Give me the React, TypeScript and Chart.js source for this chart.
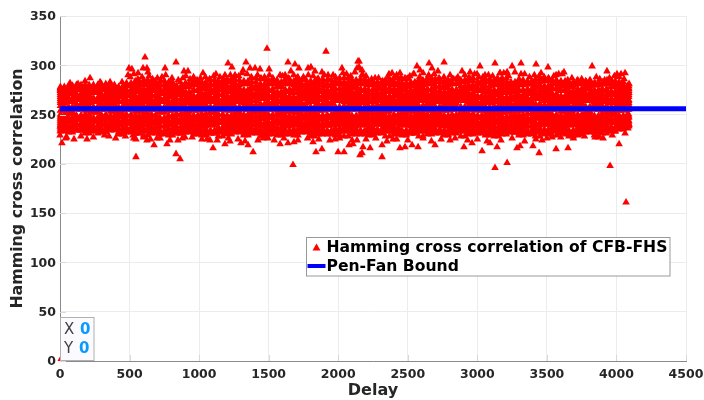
import React, { useEffect, useRef } from "react";
import { Chart, registerables } from "chart.js";

Chart.register(...registerables);

const scatterName = "Hamming cross correlation of CFB-FHS";
const boundName = "Pen-Fan Bound";
const xTicks = [0, 500, 1000, 1500, 2000, 2500, 3000, 3500, 4000, 4500];
const yTicks = [0, 50, 100, 150, 200, 250, 300, 350];
const boundDelays = [0, 4500];
const boundValues = [256, 256];

// dense part of the cloud, read column by column
const delaysA = [3,62,118,181,240,297,362,421,478,541,602,659,718,781,838,902,961,1019,1082,1138,1201,1259,1322,1379,1441,1498,1562,1619,1681,1738,1802,1858,1921,1979,2042,2099,2161,2218,2282,2339,2401,2458,2522,2579,2641,2698,2762,2819,2881,2938,3002,3059,3121,3178,3242,3299,3361,3418,3482,3539,3601,3658,3722,3779,3841,3898,3962,4019,4078];
const delaysB = [31,89,151,209,271,329,391,449,511,569,631,689,751,809,871,929,991,1049,1111,1169,1231,1289,1351,1409,1471,1529,1591,1649,1711,1769,1831,1889,1951,2009,2071,2129,2191,2249,2311,2369,2431,2489,2551,2609,2671,2729,2791,2849,2911,2969,3031,3089,3151,3209,3271,3329,3391,3449,3511,3569,3631,3689,3751,3809,3871,3929,3991,4049,4088];

const rowA283 = [277,279,280,278,280,281,279,277,282,284,285,283,284,283,278,282,284,283,285,284,286,285,284,287,286,285,283,286,284,285,284,286,285,284,287,285,286,284,283,285,287,286,283,285,287,286,284,286,285,287,284,286,285,287,283,285,284,286,287,285,284,283,285,284,282,283,284,283,279];
const row281 = [275,277,278,276,278,279,277,275,280,281,282,281,280,281,276,280,281,282,281,282,283,281,282,283,281,282,281,283,282,281,282,283,281,282,283,282,283,281,280,282,283,282,281,282,284,283,281,282,283,284,281,283,282,284,281,282,281,283,284,282,281,280,282,281,280,281,282,280,277];
const rowB278 = [278,279,277,280,278,279,280,278,279,281,280,279,280,278,279,281,280,279,280,281,279,280,281,279,280,281,279,281,280,279,281,280,279,281,280,279,281,280,279,281,280,281,279,280,281,279,280,281,279,280,281,279,280,281,279,280,281,280,279,281,279,280,281,279,280,281,279,278,276];
const row276 = [276,275,277,276,275,277,276,277,275,278,276,277,275,277,276,278,275,277,276,278,276,277,275,278,277,276,278,275,277,276,278,277,275,276,278,277,276,275,278,277,276,278,275,277,276,278,277,275,276,278,277,276,275,278,277,275,276,278,276,277,275,278,276,277,275,276,278,276,274];
const rowA274 = [274,273,275,274,273,275,274,276,274,275,273,274,276,275,274,273,275,276,274,275,273,275,274,276,275,274,273,275,276,274,275,273,274,276,275,273,274,275,276,274,273,275,274,276,275,274,273,275,274,276,275,273,274,275,276,274,273,275,274,276,275,274,273,276,274,275,273,274,272];
const row272 = [272,273,271,272,273,271,272,274,271,273,272,274,271,272,273,271,274,272,273,271,274,272,273,271,272,274,271,273,272,271,273,274,272,271,273,272,274,271,272,273,274,271,272,273,271,274,272,273,271,272,274,273,271,272,273,274,271,272,273,271,274,272,273,271,272,274,273,271,272];
const rowB270 = [270,271,269,270,272,270,269,271,270,269,271,270,272,269,271,270,269,271,272,270,269,271,270,272,269,270,271,269,272,270,271,269,270,272,271,269,270,271,272,269,270,271,269,272,270,271,269,270,272,271,269,270,271,272,269,270,271,269,272,270,269,271,270,272,269,271,270,269,270];
const row268 = [268,267,269,268,267,269,267,268,269,267,268,269,267,268,270,267,268,269,267,270,268,269,267,268,270,267,269,268,267,270,268,269,267,270,268,267,269,268,270,267,269,268,267,270,268,269,267,268,270,269,267,268,270,267,269,268,267,270,269,268,267,270,268,269,267,268,270,267,268];
const rowA266 = [266,265,267,266,265,267,266,268,265,266,267,265,266,268,266,265,267,266,268,265,266,267,265,268,266,267,265,266,268,267,265,266,267,268,265,266,267,265,268,266,265,267,266,268,265,267,266,265,268,266,267,265,266,268,267,265,266,267,268,265,266,267,265,268,266,267,265,266,265];
const row264 = [264,263,265,264,263,265,263,264,265,263,264,265,263,264,266,263,264,265,263,266,264,265,263,264,266,263,265,264,263,266,264,265,263,266,264,263,265,264,266,263,265,264,263,266,264,265,263,264,266,265,263,264,266,263,265,264,263,266,265,264,263,266,264,265,263,264,266,263,264];
const rowB262 = [262,263,261,262,264,262,261,263,262,261,263,262,264,261,263,262,261,263,264,262,261,263,262,264,261,262,263,261,264,262,263,261,262,264,263,261,262,263,264,261,262,263,261,264,262,263,261,262,264,263,261,262,263,264,261,262,263,261,264,262,261,263,262,264,261,263,262,261,262];
const row259 = [259,258,260,259,258,260,259,258,260,258,259,260,258,259,260,258,259,260,258,259,260,258,259,260,258,260,259,258,260,259,258,260,259,258,259,260,258,259,260,258,259,260,258,259,260,258,260,259,258,260,259,258,259,260,258,259,260,258,260,259,258,259,260,258,260,259,258,259,260];
const row254 = [254,253,255,254,253,255,253,254,255,253,254,255,253,254,255,253,254,255,253,255,254,253,255,254,253,255,254,253,255,254,253,254,255,253,254,255,253,254,255,253,255,254,253,255,254,253,254,255,253,255,254,253,254,255,253,254,255,253,254,255,253,254,255,253,255,254,253,254,255];
const rowA250 = [250,251,249,250,252,250,249,251,250,249,251,250,252,249,251,250,249,251,252,250,249,251,250,252,249,250,251,249,252,250,251,249,250,252,251,249,250,251,252,249,250,251,249,252,250,251,249,250,252,251,249,250,251,252,249,250,251,249,252,250,249,251,250,252,249,251,250,249,250];
const row248 = [248,247,249,248,247,249,247,248,249,247,248,249,247,248,250,247,248,249,247,250,248,249,247,248,250,247,249,248,247,250,248,249,247,250,248,247,249,248,250,247,249,248,247,250,248,249,247,248,250,249,247,248,250,247,249,248,247,250,249,248,247,250,248,249,247,248,250,247,248];
const rowB246 = [246,245,247,246,245,247,246,248,245,246,247,245,246,248,246,245,247,246,248,245,246,247,245,248,246,247,245,246,248,247,245,246,247,248,245,246,247,245,248,246,245,247,246,248,245,247,246,245,248,246,247,245,246,248,247,245,246,247,248,245,246,247,245,248,246,247,245,246,247];
const row244 = [244,243,245,244,243,245,243,244,245,243,244,245,243,244,246,243,244,245,243,246,244,245,243,244,246,243,245,244,243,246,244,245,243,246,244,243,245,244,246,243,245,244,243,246,244,245,243,244,246,245,243,244,246,243,245,244,243,246,245,244,243,246,244,245,243,244,246,243,244];
const rowA242 = [242,243,241,242,244,242,241,243,242,241,243,242,244,241,243,242,241,243,244,242,241,243,242,244,241,242,243,241,244,242,243,241,242,244,243,241,242,243,244,241,242,243,241,244,242,243,241,242,244,243,241,242,243,244,241,242,243,241,244,242,241,243,242,244,241,243,242,241,243];
const row240 = [240,239,241,240,239,241,239,240,241,239,240,241,239,240,242,239,240,241,239,242,240,241,239,240,242,239,241,240,239,242,240,241,239,242,240,239,241,240,242,239,241,240,239,242,240,241,239,240,242,241,239,240,242,239,241,240,239,242,241,240,239,242,240,241,239,240,242,239,240];
const rowB238 = [238,237,239,238,237,239,238,240,237,238,239,237,238,240,238,237,239,238,240,237,238,239,237,240,238,239,237,238,240,239,237,238,239,240,237,238,239,237,240,238,237,239,238,240,237,239,238,237,240,238,239,237,238,240,239,237,238,239,240,237,238,239,237,240,238,239,237,238,240];
const row236 = [238,237,236,238,237,236,238,236,235,236,235,237,234,236,235,237,236,235,234,236,235,237,234,236,235,237,236,234,235,237,236,235,234,236,237,235,234,236,235,237,236,234,235,237,236,235,234,236,237,235,236,234,235,237,236,235,234,236,235,237,236,234,235,237,236,238,237,239,241];
const rowA234 = [236,235,234,236,235,234,236,235,234,233,235,234,232,234,233,235,234,233,232,234,233,235,232,234,233,235,234,232,233,235,234,233,232,234,235,233,232,234,233,235,234,232,233,235,234,233,232,234,235,233,234,232,233,235,234,233,232,234,233,235,234,232,233,235,234,236,235,237,240];
const row232 = [234,233,235,233,234,233,235,232,233,231,233,232,231,232,231,233,232,230,231,232,231,233,230,232,231,233,231,230,232,233,231,232,230,232,233,231,230,232,231,233,232,230,231,233,232,231,230,232,233,231,232,230,231,233,232,231,230,232,231,233,232,230,231,233,232,234,233,236,239];
const rowB230 = [233,232,234,231,233,232,234,230,232,231,229,231,230,229,231,232,230,229,231,228,230,232,229,231,228,230,229,231,229,232,228,230,231,229,228,230,231,229,232,228,230,229,231,228,230,232,229,231,228,230,231,229,228,230,232,229,231,228,230,229,231,228,230,232,229,231,233,235,238];

// sparse points on the upper edge and the outliers, read one by one
const edgeDelays = [611,834,496,517,489,597,625,632,561,755,891,920,1028,884,216,72,130,180,288,360,446,683,733,791,1488,1912,1208,1337,1639,1689,1718,1660,1783,1804,1236,1366,1402,1438,1503,1316,1121,1186,1258,1582,1618,1704,1833,1883,1927,1963,2027,2034,2142,2135,2150,2150,2171,2178,2566,2653,2761,3019,3127,2674,2717,2588,2545,2387,2444,2365,2265,2502,2804,2890,2948,2998,3055,3163,3214,3250,3314,3422,3508,3825,3932,4004,4033,4062,3623,3566,3458,3314,3163,3932,3968,4091,3724,3846,3645,3400,
  546,834,863,14,0,48,101,194,273,352,525,546,625,676,697,769,848,899,1057,1675,1100,1388,1352,1186,1301,1222,1078,1423,1495,1582,1639,1682,1819,1840,1883,1999,2042,2078,1977,2157,2135,2315,2171,2178,2229,2315,2444,2480,2574,2696,2904,2962,3034,3091,3142,3127,3214,2804,2394,2531,2106,3954,4069,3444,3566,3652,4019,3285,3307,3400,3465,3724,3904,4062,4083,3638,3846,3537,0];
const edgeValues = [308,303,297,296,290,297,297,293,292,297,294,294,292,287,287,282,281,284,283,283,283,284,288,282,317,314,302,303,303,301,297,294,297,298,298,297,297,296,296,295,291,290,290,290,290,287,294,293,290,290,297,292,304,297,304,298,295,290,299,302,303,299,302,297,294,295,291,292,292,291,287,287,290,294,293,291,290,292,293,299,302,301,298,299,294,291,291,292,293,290,292,291,292,285,284,281,283,282,282,282,
  207,210,205,221,229,227,225,225,231,228,229,225,224,219,226,220,224,227,225,199,216,212,219,220,221,223,224,224,226,220,221,222,222,212,215,212,212,219,225,209,224,207,211,217,216,219,216,217,217,219,217,221,213,221,217,196,201,224,225,219,220,198,161,211,215,216,220,216,218,218,224,229,226,231,236,230,227,227,0];

// second layer along the upper and lower rims of the cloud
const upperDelays = [505,560,640,700,760,850,905,960,1010,1075,1150,1225,1285,1345,1420,1470,1530,1600,1680,1750,1820,1900,1980,2060,2120,2200,2290,2360,2420,2480,2540,2610,2690,2760,2830,2910,2980,3040,3110,3190,3270,3340,3410,3480,3550,3610,3680,3750,3810,3880,3950,4020,
  530,590,665,725,805,865,935,985,1045,1105,1175,1250,1310,1375,1445,1505,1560,1640,1710,1785,1850,1930,2010,2090,2170,2240,2320,2390,2450,2515,2585,2650,2725,2790,2860,2945,3010,3080,3145,3225,3300,3375,3445,3515,3585,3650,3715,3785,3855,3915,3985,4055];
const upperValues = [288,286,289,287,290,285,289,288,287,286,288,290,289,291,290,288,287,289,290,288,289,290,288,291,293,289,287,288,290,287,291,292,291,288,286,290,291,288,289,292,293,291,290,288,289,291,287,286,285,286,287,288,
  291,288,286,284,287,283,286,285,288,289,286,287,292,288,287,290,285,287,288,290,286,285,287,289,290,286,284,285,287,289,288,290,287,285,288,287,288,290,287,289,286,288,289,286,291,285,284,283,288,285,289,286];
const lowerDelays = [40,150,240,320,400,470,530,600,650,720,790,880,950,1020,1130,1210,1280,1330,1460,1540,1610,1710,1780,1860,1940,2010,2100,2200,2270,2350,2420,2500,2610,2670,2740,2840,2930,3000,3070,3170,3250,3340,3420,3500,3600,3690,3770,3870,3970];
const lowerValues = [226,228,227,229,226,228,226,227,225,226,224,226,227,225,224,226,225,223,226,224,226,224,226,225,224,226,224,225,226,223,225,224,226,223,225,226,224,225,223,224,226,223,225,226,227,226,228,227,229];

function rowPoints(delays: number[], values: number[]) {
  return values.map((v, i) => ({ x: delays[i], y: v }));
}

const denseRows = [rowA283, row281, rowB278, row276, rowA274, row272, rowB270, row268, rowA266, row264, rowB262, row259, row254, rowA250, row248, rowB246, row244, rowA242, row240, rowB238, row236, rowA234, row232, rowB230];

const scatterPoints = [
  ...rowPoints(edgeDelays, edgeValues),
  ...rowPoints(upperDelays, upperValues),
  ...rowPoints(lowerDelays, lowerValues),
  ...denseRows.flatMap((row) => [...rowPoints(delaysA, row), ...rowPoints(delaysB, row)]),
];

const FONT = '"DejaVu Sans"';
const INK = "#262626";

const overlay = {
  id: "overlay",
  afterDatasetsDraw(chart: any) {
    const { ctx, scales, chartArea } = chart;
    ctx.save();
    // inward tick marks
    ctx.strokeStyle = "#d8d8d8";
    ctx.lineWidth = 1;
    ctx.beginPath();
    scales.x.ticks.forEach((t: any) => {
      const p = Math.round(scales.x.getPixelForValue(t.value)) + 0.5;
      ctx.moveTo(p, chartArea.bottom);
      ctx.lineTo(p, chartArea.bottom - 6);
    });
    scales.y.ticks.forEach((t: any) => {
      const p = Math.round(scales.y.getPixelForValue(t.value)) + 0.5;
      ctx.moveTo(chartArea.left, p);
      ctx.lineTo(chartArea.left + 6, p);
    });
    ctx.stroke();

    // legend
    ctx.fillStyle = "#ffffff";
    ctx.strokeStyle = "#999999";
    ctx.fillRect(306.5, 237.5, 363.5, 38.5);
    ctx.strokeRect(306.5, 237.5, 363.5, 38.5);
    ctx.fillStyle = "#ff0000";
    ctx.beginPath();
    ctx.moveTo(316.5, 243.5);
    ctx.lineTo(320.5, 250.5);
    ctx.lineTo(312.5, 250.5);
    ctx.closePath();
    ctx.fill();
    ctx.fillStyle = "#0000ff";
    ctx.fillRect(307.5, 264, 18, 4);
    ctx.fillStyle = "#000000";
    ctx.font = `bold 15.6px ${FONT}`;
    ctx.textBaseline = "middle";
    ctx.textAlign = "left";
    ctx.fillText(scatterName, 326.5, 248);
    ctx.fillText(boundName, 326.5, 267);

    // data tip at the origin
    ctx.fillStyle = "#fafaff";
    ctx.strokeStyle = "#b0b0b0";
    ctx.fillRect(60.5, 317.5, 33.5, 43);
    ctx.strokeRect(60.5, 317.5, 33.5, 43);
    ctx.font = `15px ${FONT}`;
    ctx.fillStyle = "#404040";
    ctx.fillText("X", 64, 330);
    ctx.fillText("Y", 64, 349);
    ctx.font = `bold 15px ${FONT}`;
    ctx.fillStyle = "#0a9aff";
    ctx.fillText("0", 80, 330);
    ctx.fillText("0", 79, 349);
    ctx.restore();
  },
};

export default function App() {
  const ref = useRef<HTMLCanvasElement>(null);
  useEffect(() => {
    document.body.style.margin = "0";
    const chart = new Chart(ref.current!, {
      type: "scatter",
      data: {
        datasets: [
          {
            label: boundName,
            data: boundDelays.map((d, i) => ({ x: d, y: boundValues[i] })),
            showLine: true,
            borderColor: "#0000ff",
            backgroundColor: "#0000ff",
            borderWidth: 5,
            pointRadius: 0,
            order: 0,
          },
          {
            label: scatterName,
            data: scatterPoints,
            pointStyle: "triangle",
            pointRadius: 4.4,
            pointBorderWidth: 0,
            backgroundColor: "#ff0000",
            borderColor: "#ff0000",
            clip: { left: false, top: false, right: false, bottom: 0 },
            order: 1,
          },
        ],
      },
      options: {
        animation: false,
        responsive: false,
        layout: { padding: { top: 16, right: 18, left: 0, bottom: 0 } },
        plugins: { legend: { display: false }, tooltip: { enabled: false } },
        scales: {
          x: {
            type: "linear",
            min: 0,
            max: 4500,
            afterBuildTicks: (s: any) => {
              s.ticks = xTicks.map((value) => ({ value }));
            },
            afterFit: (s: any) => {
              s.height = 39;
            },
            grid: { color: "#ececec", drawTicks: true, tickLength: 6, tickColor: "rgba(0,0,0,0)" },
            border: { color: "#8a8a8a", width: 1 },
            ticks: {
              color: INK,
              padding: 0,
              maxRotation: 0,
              callback: (v: any) => String(v),
              font: { family: FONT, size: 12.5, weight: "bold" },
            },
            title: {
              display: true,
              text: "Delay",
              color: INK,
              padding: { top: 2, bottom: 0 },
              font: { family: FONT, size: 16, weight: "bold" },
            },
          },
          y: {
            type: "linear",
            min: 0,
            max: 350,
            afterBuildTicks: (s: any) => {
              s.ticks = yTicks.map((value) => ({ value }));
            },
            afterFit: (s: any) => {
              s.width = 60;
            },
            grid: { color: "#ececec", drawTicks: true, tickLength: 4, tickColor: "rgba(0,0,0,0)" },
            border: { color: "#8a8a8a", width: 1 },
            ticks: {
              color: INK,
              padding: 0,
              labelOffset: 1,
              callback: (v: any) => String(v),
              font: { family: FONT, size: 12.5, weight: "bold" },
            },
            title: {
              display: true,
              text: "Hamming cross correlation",
              color: INK,
              padding: { top: 8, bottom: 4 },
              font: { family: FONT, size: 15.8, weight: "bold" },
            },
          },
        },
      },
      plugins: [overlay],
    } as any);
    return () => chart.destroy();
  }, []);
  return <canvas ref={ref} width={704} height={400} style={{ display: "block" }} />;
}
